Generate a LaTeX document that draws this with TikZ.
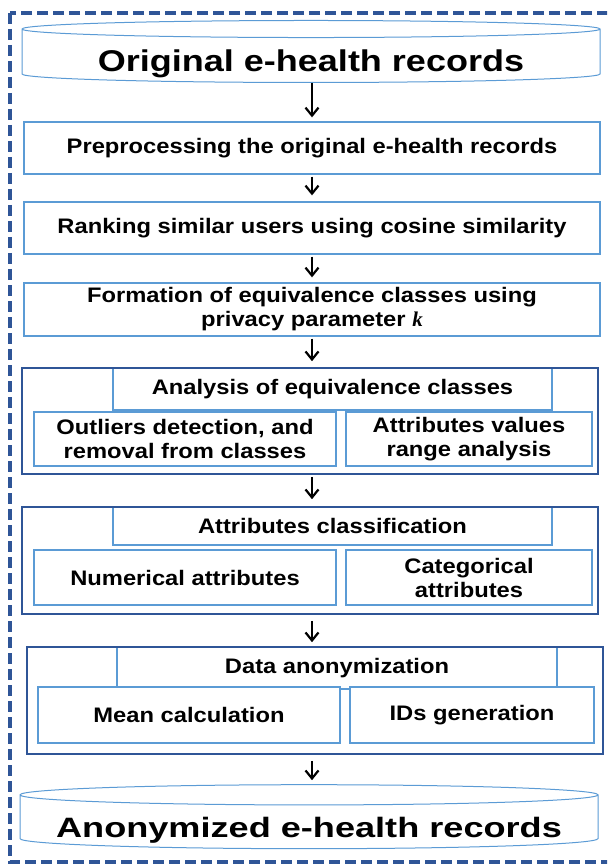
\documentclass[tikz,border=0pt]{standalone}
\usepackage{fontspec}
\setmainfont{Liberation Sans}
\newfontfamily\bodyfont[FakeStretch=1.13]{Liberation Sans}
\newfontfamily\titlefont[FakeStretch=1.2]{Liberation Sans}
\newfontfamily\basefont[FakeStretch=1.29]{Liberation Sans}
\newfontfamily\kfont{Liberation Serif}
\usetikzlibrary{arrows.meta, positioning, shapes.geometric}
\definecolor{boxblue}{RGB}{91,155,213}
\definecolor{frameblue}{RGB}{47,85,151}

\begin{document}
\begin{tikzpicture}[x=1pt, y=-1pt,
    stepbox/.style={draw=boxblue, line width=1.3pt, fill=white, inner sep=0pt,
        align=center, font=\bodyfont\bfseries\fontsize{21}{24}\selectfont},
    groupbox/.style={draw=frameblue, line width=1.6pt, inner sep=0pt},
    store/.style={cylinder, shape border rotate=90, aspect=0.04, draw=boxblue,
        line width=1pt, fill=white, inner sep=0pt, text depth=0pt},
    flow/.style={-{Straight Barb[length=8pt,width=13pt]}, line width=2.2pt}]
                \useasboundingbox (0,0) rectangle (607,866);
                \clip (0,0) rectangle (607,866);
                % Frame
                \draw[frameblue, line width=3.5pt, dash pattern=on 11pt off 5pt] (10,13) rectangle (700,862);
                
                % Records
                \node[store, minimum width=578pt, minimum height=62pt, text height=32pt, font=\titlefont\bfseries\fontsize{30}{32}\selectfont] (orig) at (311,56) {Original e-health records};
                \node[store, minimum width=578pt, minimum height=64pt, text height=30pt, font=\basefont\bfseries\fontsize{28}{30}\selectfont] (anon) at (309,822) {Anonymized e-health records};
                
                % Steps
                \node[stepbox, minimum width=576pt, minimum height=52pt] (prep) at (312,148) {Preprocessing the original e-health records};
                \node[stepbox, minimum width=576pt, minimum height=52pt] (rank) at (312,228) {Ranking similar users using cosine similarity};
                \node[stepbox, minimum width=576pt, minimum height=53pt] (form) at (312,309.5) {Formation of equivalence classes using\\privacy parameter {\kfont\bfseries\itshape k}};
                
                % Analysis
                \node[stepbox, minimum width=439pt, minimum height=42pt] (anhead) at (332.5,389) {Analysis of equivalence classes};
                \node[stepbox, minimum width=302pt, minimum height=54pt] (outl) at (185,439) {Outliers detection, and\\removal from classes};
                \node[stepbox, minimum width=246pt, minimum height=54pt] (range) at (469,439) {Attributes values\\range analysis};
                \node[groupbox, minimum width=576pt, minimum height=106pt] (analysis) at (310,421) {};
                
                % Classification
                \node[stepbox, minimum width=439pt, minimum height=38pt] (clhead) at (332.5,526) {Attributes classification};
                \node[stepbox, minimum width=302pt, minimum height=55pt] (numer) at (185,577.5) {Numerical attributes};
                \node[stepbox, minimum width=246pt, minimum height=55pt] (categ) at (469,577.5) {Categorical\\attributes};
                \node[groupbox, minimum width=576pt, minimum height=107pt] (classif) at (310,560.5) {};
                
                % Anonymization
                \node[stepbox, minimum width=440pt, minimum height=42pt] (dahead) at (337,668) {Data anonymization};
                \node[stepbox, minimum width=302pt, minimum height=56pt] (mean) at (189,715) {Mean calculation};
                \node[stepbox, minimum width=244pt, minimum height=56pt] (ids) at (472,715) {IDs generation};
                \node[groupbox, minimum width=576pt, minimum height=107pt] (anonym) at (315,700.5) {};
                
                % Flow
                \draw[flow, shorten >=4pt] (orig.south -| prep) -- (prep.north);
                \draw[flow, shorten <=2pt, shorten >=6pt] (prep.south) -- (rank.north);
                \draw[flow, shorten <=2pt, shorten >=5pt] (rank.south) -- (form.north);
                \draw[flow, shorten <=2pt, shorten >=6pt] (form.south) -- (analysis.north -| form);
                \draw[flow, shorten <=2pt, shorten >=7pt] (analysis.south -| form) -- (classif.north -| form);
                \draw[flow, shorten <=6pt, shorten >=4pt] (classif.south -| form) -- (anonym.north -| form);
                \draw[flow, shorten <=6pt, shorten >=4pt] (anonym.south -| form) -- (anon.north -| form);
            \end{tikzpicture}
\end{document}
